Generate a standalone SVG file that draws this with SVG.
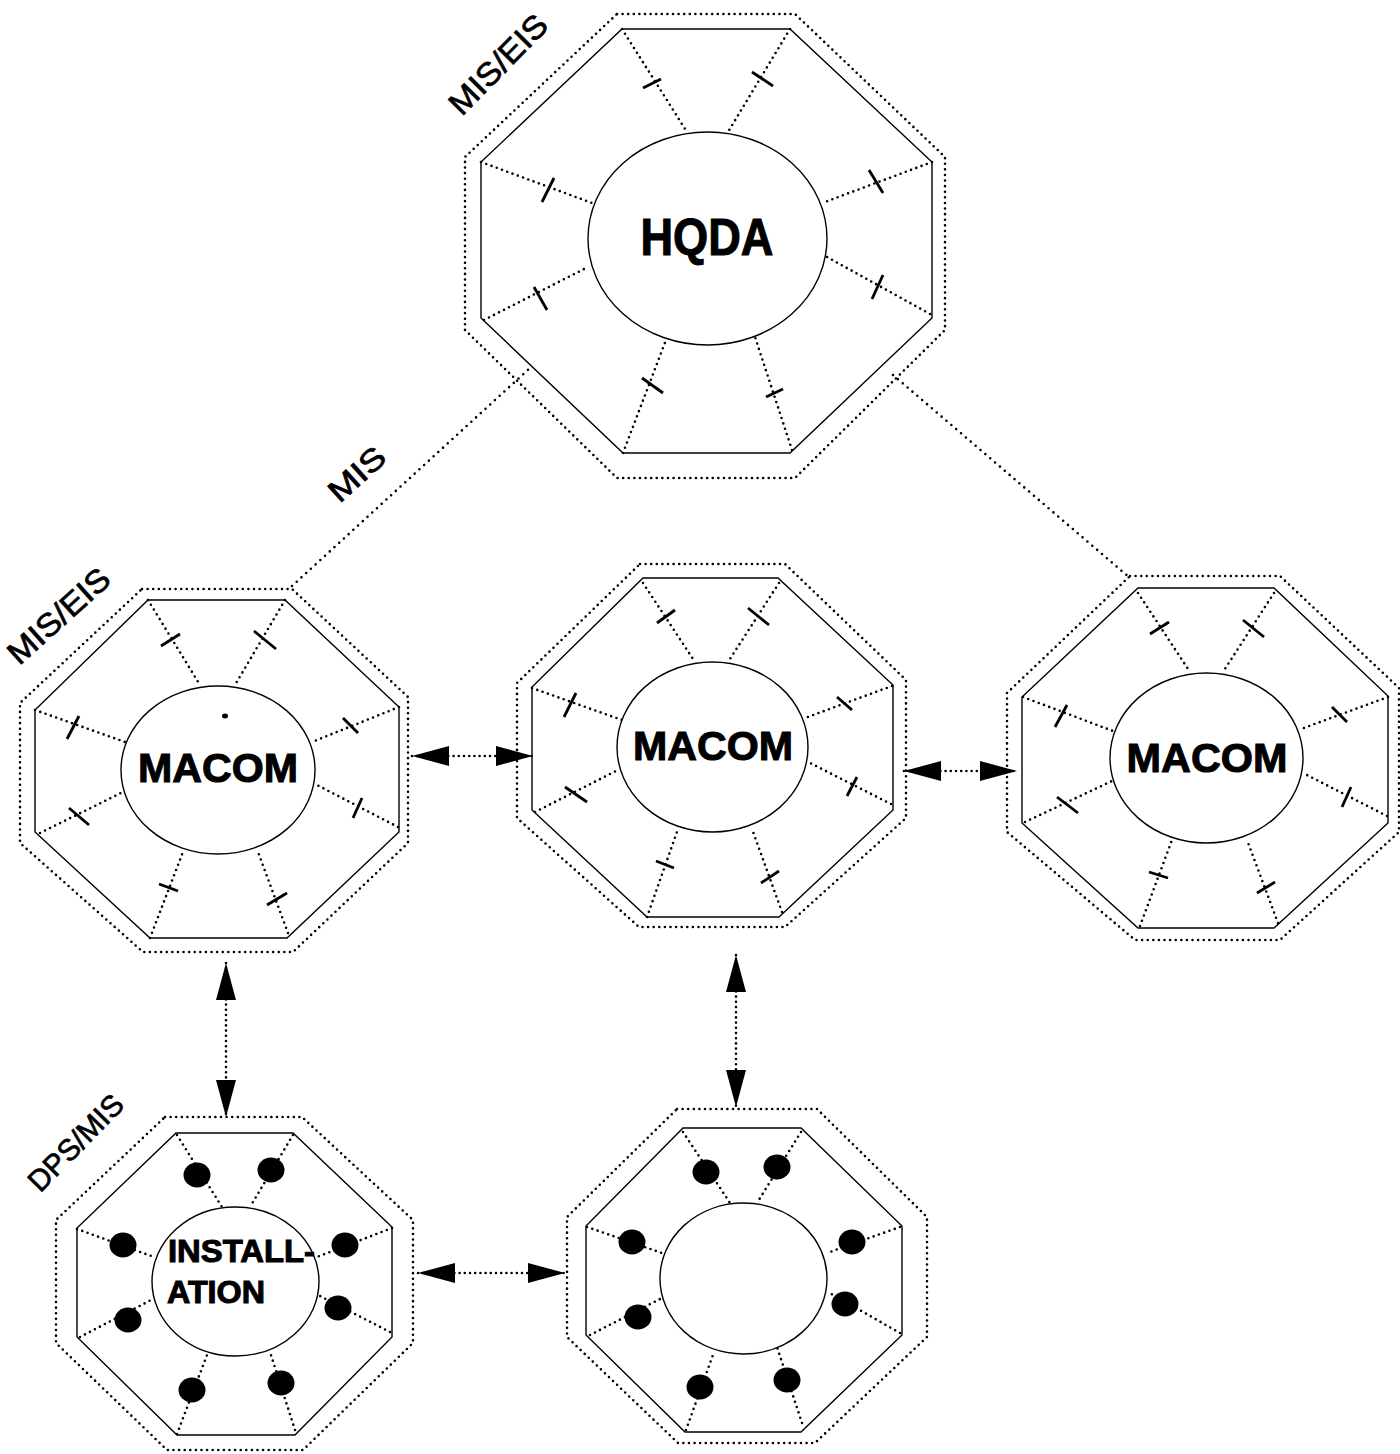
<svg xmlns="http://www.w3.org/2000/svg" width="1400" height="1454" viewBox="0 0 1400 1454">
<style>
.outer{fill:none;stroke:#000;stroke-width:2.6;stroke-linecap:round;stroke-dasharray:0 5.6}
.inner{fill:none;stroke:#000;stroke-width:1.4;stroke-linejoin:miter}
.ell{fill:#fff;stroke:#000;stroke-width:1.4}
.spoke{fill:none;stroke:#000;stroke-width:2.6;stroke-linecap:round;stroke-dasharray:0 5.6}
.tick{stroke:#000;stroke-width:2.8;stroke-linecap:butt}
.dot{fill:#000}
.big{font-family:"Liberation Sans",Arial,sans-serif;font-weight:bold;fill:#000;stroke:#000;stroke-width:1;text-anchor:middle}
.lbl{font-family:"Liberation Sans",Arial,sans-serif;fill:#000;stroke:#000;stroke-width:0.7;text-anchor:middle}
.conn{fill:none;stroke:#000;stroke-width:2.6;stroke-linecap:round;stroke-dasharray:0 6.4}
.arr{fill:none;stroke:#000;stroke-width:2.6;stroke-linecap:round;stroke-dasharray:0 5.2;marker-start:url(#ah);marker-end:url(#ah)}
</style>
<defs>
<marker id="ah" viewBox="0 0 37 20" refX="37" refY="10" markerWidth="37" markerHeight="20" markerUnits="userSpaceOnUse" orient="auto-start-reverse">
<path d="M0,0 L37,10 L0,20 Z" fill="#000"/>
</marker>
</defs>
<rect width="1400" height="1454" fill="#fff"/>

<g id="connectors">
<line class="conn" x1="292" y1="586" x2="530" y2="368"/>
<line class="conn" x1="893" y1="375" x2="1130" y2="578"/>
<line class="arr" x1="412" y1="756" x2="533" y2="756"/>
<line class="arr" x1="904" y1="771" x2="1017" y2="771"/>
<line class="arr" x1="226" y1="963" x2="226" y2="1117"/>
<line class="arr" x1="736" y1="955" x2="736" y2="1107"/>
<line class="arr" x1="418" y1="1273" x2="565" y2="1273"/>
<text class="lbl" font-size="31" textLength="66" lengthAdjust="spacingAndGlyphs" transform="translate(364,482) rotate(-42)">MIS</text>
</g>

<g id="hqda">
<polygon class="outer" points="617,14 795,14 945,157 945,330 795,478 617,478 465,330 465,157"/>
<polygon class="inner" points="622,29 790,29 932,162 932,318 790,453 623,453 481,318 481,162"/>
<line class="spoke" x1="622" y1="29" x2="687" y2="132"/>
<line class="spoke" x1="790" y1="29" x2="728" y2="132"/>
<line class="spoke" x1="481" y1="162" x2="592" y2="203"/>
<line class="spoke" x1="484" y1="320" x2="588" y2="267"/>
<line class="spoke" x1="932" y1="162" x2="825" y2="202"/>
<line class="spoke" x1="930" y1="314" x2="827" y2="257"/>
<line class="spoke" x1="623" y1="453" x2="666" y2="340"/>
<line class="spoke" x1="792" y1="450" x2="755" y2="337"/>
<line class="tick" x1="643" y1="88" x2="661" y2="79"/>
<line class="tick" x1="752" y1="72" x2="773" y2="86"/>
<line class="tick" x1="542" y1="202" x2="554" y2="178"/>
<line class="tick" x1="534" y1="287" x2="547" y2="310"/>
<line class="tick" x1="869" y1="170" x2="883" y2="193"/>
<line class="tick" x1="883" y1="275" x2="872" y2="299"/>
<line class="tick" x1="642" y1="378" x2="663" y2="393"/>
<line class="tick" x1="766" y1="397" x2="783" y2="389"/>
<ellipse class="ell" cx="707.5" cy="238.5" rx="119.5" ry="106.5"/>
<text class="big" x="707" y="255" font-size="51" textLength="133" lengthAdjust="spacingAndGlyphs">HQDA</text>
<text class="lbl" font-size="32" textLength="126" lengthAdjust="spacingAndGlyphs" transform="translate(506,72) rotate(-45.5)">MIS/EIS</text>
</g>

<g id="macom-left">
<polygon class="outer" points="142,589 292,589 408,697 408,843 293,952 143,952 20,843 20,703"/>
<polygon class="inner" points="148,600 285,600 399,707 399,832 287,938 150,938 35,832 35,710"/>
<line class="spoke" x1="148" y1="600" x2="200" y2="685"/>
<line class="spoke" x1="285" y1="600" x2="235" y2="685"/>
<line class="spoke" x1="35" y1="710" x2="125" y2="742"/>
<line class="spoke" x1="40" y1="833" x2="123" y2="792"/>
<line class="spoke" x1="399" y1="707" x2="312" y2="742"/>
<line class="spoke" x1="398" y1="827" x2="315" y2="784"/>
<line class="spoke" x1="150" y1="938" x2="183" y2="852"/>
<line class="spoke" x1="288" y1="933" x2="258" y2="852"/>
<line class="tick" x1="161" y1="646" x2="180" y2="634"/>
<line class="tick" x1="254" y1="631" x2="276" y2="649"/>
<line class="tick" x1="67" y1="739" x2="79" y2="716"/>
<line class="tick" x1="69" y1="808" x2="89" y2="825"/>
<line class="tick" x1="343" y1="718" x2="358" y2="733"/>
<line class="tick" x1="362" y1="798" x2="353" y2="818"/>
<line class="tick" x1="159" y1="884" x2="178" y2="891"/>
<line class="tick" x1="267" y1="905" x2="287" y2="893"/>
<ellipse class="ell" cx="218" cy="770" rx="97" ry="84"/>
<ellipse class="dot" cx="225" cy="716" rx="3" ry="2.5"/>
<text class="big" x="218" y="782" font-size="41" textLength="160" lengthAdjust="spacingAndGlyphs">MACOM</text>
<text class="lbl" font-size="32" textLength="126" lengthAdjust="spacingAndGlyphs" transform="translate(66,624) rotate(-42)">MIS/EIS</text>
</g>

<g id="macom-middle">
<polygon class="outer" points="640,564 785,564 906,680 906,818 785,927 639,927 517,818 517,683"/>
<polygon class="inner" points="643,578 778,578 893,685 893,810 779,917 647,917 532,810 532,687"/>
<line class="spoke" x1="643" y1="583" x2="695" y2="662"/>
<line class="spoke" x1="779" y1="583" x2="728" y2="662"/>
<line class="spoke" x1="532" y1="688" x2="622" y2="720"/>
<line class="spoke" x1="535" y1="812" x2="618" y2="770"/>
<line class="spoke" x1="892" y1="686" x2="805" y2="718"/>
<line class="spoke" x1="891" y1="804" x2="808" y2="762"/>
<line class="spoke" x1="647" y1="917" x2="678" y2="829"/>
<line class="spoke" x1="782" y1="912" x2="752" y2="829"/>
<line class="tick" x1="657" y1="623" x2="675" y2="610"/>
<line class="tick" x1="748" y1="608" x2="769" y2="625"/>
<line class="tick" x1="564" y1="717" x2="576" y2="693"/>
<line class="tick" x1="565" y1="787" x2="587" y2="802"/>
<line class="tick" x1="837" y1="697" x2="852" y2="710"/>
<line class="tick" x1="857" y1="777" x2="847" y2="796"/>
<line class="tick" x1="656" y1="861" x2="674" y2="868"/>
<line class="tick" x1="761" y1="883" x2="779" y2="871"/>
<ellipse class="ell" cx="712.5" cy="747" rx="95.5" ry="85"/>
<text class="big" x="713" y="760" font-size="41" textLength="160" lengthAdjust="spacingAndGlyphs">MACOM</text>
</g>

<g id="macom-right">
<polygon class="outer" points="1130,576 1280,576 1399,688 1399,832 1280,940 1135,940 1007,832 1007,693"/>
<polygon class="inner" points="1138,588 1274,588 1388,696 1388,823 1274,928 1138,928 1022,823 1022,697"/>
<line class="spoke" x1="1138" y1="593" x2="1190" y2="672"/>
<line class="spoke" x1="1274" y1="593" x2="1223" y2="672"/>
<line class="spoke" x1="1023" y1="697" x2="1113" y2="731"/>
<line class="spoke" x1="1025" y1="822" x2="1112" y2="781"/>
<line class="spoke" x1="1388" y1="697" x2="1301" y2="729"/>
<line class="spoke" x1="1387" y1="816" x2="1303" y2="773"/>
<line class="spoke" x1="1140" y1="926" x2="1172" y2="840"/>
<line class="spoke" x1="1278" y1="923" x2="1247" y2="840"/>
<line class="tick" x1="1150" y1="634" x2="1169" y2="622"/>
<line class="tick" x1="1243" y1="620" x2="1264" y2="637"/>
<line class="tick" x1="1055" y1="727" x2="1067" y2="705"/>
<line class="tick" x1="1057" y1="797" x2="1078" y2="813"/>
<line class="tick" x1="1332" y1="707" x2="1347" y2="722"/>
<line class="tick" x1="1351" y1="787" x2="1342" y2="807"/>
<line class="tick" x1="1149" y1="872" x2="1168" y2="878"/>
<line class="tick" x1="1257" y1="893" x2="1275" y2="882"/>
<ellipse class="ell" cx="1206.5" cy="758" rx="96.5" ry="85"/>
<text class="big" x="1207" y="772" font-size="41" textLength="161" lengthAdjust="spacingAndGlyphs">MACOM</text>
</g>

<g id="installation">
<polygon class="outer" points="165,1117 302,1117 413,1220 413,1343 303,1450 167,1450 56,1343 56,1220"/>
<polygon class="inner" points="176,1133 293,1133 392,1227 392,1337 295,1435 177,1435 77,1337 77,1228"/>
<line class="spoke" x1="177" y1="1135" x2="222" y2="1207"/>
<line class="spoke" x1="293" y1="1135" x2="250" y2="1207"/>
<line class="spoke" x1="77" y1="1229" x2="154" y2="1257"/>
<line class="spoke" x1="80" y1="1337" x2="153" y2="1299"/>
<line class="spoke" x1="392" y1="1228" x2="317" y2="1257"/>
<line class="spoke" x1="390" y1="1332" x2="318" y2="1295"/>
<line class="spoke" x1="177" y1="1434" x2="207" y2="1355"/>
<line class="spoke" x1="295" y1="1430" x2="270" y2="1352"/>
<ellipse class="dot" cx="197" cy="1175" rx="13.5" ry="12.5"/>
<ellipse class="dot" cx="271" cy="1170" rx="13.5" ry="12.5"/>
<ellipse class="dot" cx="123" cy="1245" rx="13.5" ry="12.5"/>
<ellipse class="dot" cx="128" cy="1320" rx="13.5" ry="12.5"/>
<ellipse class="dot" cx="345" cy="1245" rx="13.5" ry="12.5"/>
<ellipse class="dot" cx="338" cy="1308" rx="13.5" ry="12.5"/>
<ellipse class="dot" cx="192" cy="1390" rx="13.5" ry="12.5"/>
<ellipse class="dot" cx="281" cy="1383" rx="13.5" ry="12.5"/>
<ellipse class="ell" cx="235.5" cy="1281.5" rx="83.5" ry="74.5"/>
<text class="big" x="168" y="1262" font-size="31" textLength="147" lengthAdjust="spacingAndGlyphs" style="text-anchor:start">INSTALL-</text>
<text class="big" x="167" y="1303" font-size="31" textLength="98" lengthAdjust="spacingAndGlyphs" style="text-anchor:start">ATION</text>
<text class="lbl" font-size="30" textLength="122" lengthAdjust="spacingAndGlyphs" transform="translate(83,1150) rotate(-45.5)">DPS/MIS</text>
</g>

<g id="installation-2">
<polygon class="outer" points="677,1109 817,1109 927,1217 927,1337 815,1443 678,1443 567,1337 567,1217"/>
<polygon class="inner" points="683,1128 801,1128 902,1226 902,1335 801,1432 685,1432 586,1335 586,1226"/>
<line class="spoke" x1="683" y1="1132" x2="730" y2="1203"/>
<line class="spoke" x1="801" y1="1132" x2="757" y2="1203"/>
<line class="spoke" x1="587" y1="1227" x2="662" y2="1253"/>
<line class="spoke" x1="590" y1="1335" x2="662" y2="1298"/>
<line class="spoke" x1="900" y1="1227" x2="827" y2="1253"/>
<line class="spoke" x1="900" y1="1333" x2="828" y2="1292"/>
<line class="spoke" x1="686" y1="1430" x2="714" y2="1352"/>
<line class="spoke" x1="802" y1="1423" x2="777" y2="1347"/>
<ellipse class="dot" cx="706" cy="1172" rx="13.5" ry="12.5"/>
<ellipse class="dot" cx="777" cy="1167" rx="13.5" ry="12.5"/>
<ellipse class="dot" cx="632" cy="1242" rx="13.5" ry="12.5"/>
<ellipse class="dot" cx="638" cy="1317" rx="13.5" ry="12.5"/>
<ellipse class="dot" cx="852" cy="1242" rx="13.5" ry="12.5"/>
<ellipse class="dot" cx="845" cy="1304" rx="13.5" ry="12.5"/>
<ellipse class="dot" cx="700" cy="1387" rx="13.5" ry="12.5"/>
<ellipse class="dot" cx="787" cy="1380" rx="13.5" ry="12.5"/>
<ellipse class="ell" cx="743.5" cy="1278.5" rx="83.5" ry="75.5"/>
</g>
</svg>
